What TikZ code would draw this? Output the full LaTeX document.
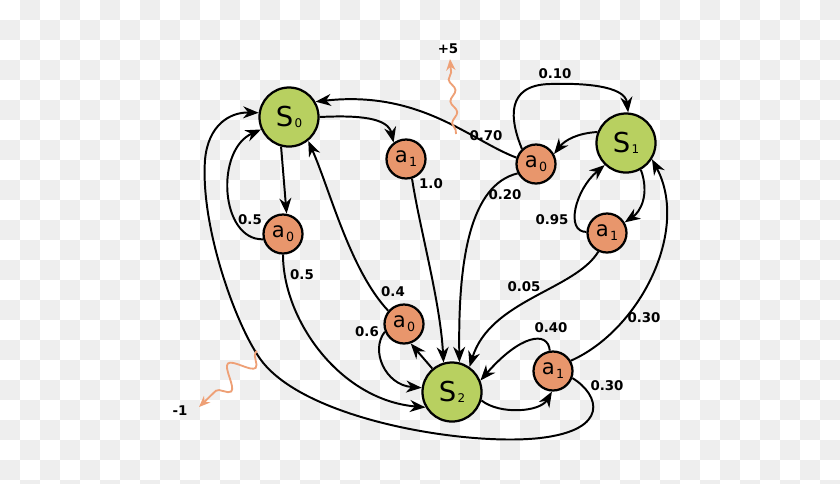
\documentclass[tikz,border=0pt]{standalone}
\usepackage{fontspec}
\setmainfont{DejaVu Sans}
\usetikzlibrary{arrows.meta,decorations.pathmorphing}

\definecolor{stategreen}{RGB}{184,208,96}
\definecolor{actorange}{RGB}{232,150,108}
\definecolor{rewardorange}{RGB}{238,160,118}
\definecolor{checker}{RGB}{238,238,238}

\newcommand{\sname}[1]{{\fontsize{19.5}{19.5}\selectfont S}\hspace{1pt}\raisebox{-1pt}{\fontsize{8.5}{8.5}\selectfont #1}}
\newcommand{\aname}[1]{{\fontsize{15}{15}\selectfont a}\hspace{1pt}\raisebox{-2.8pt}{\fontsize{9}{9}\selectfont #1}}

\tikzset{
  state/.style={draw,circle,fill=stategreen,line width=1.6pt,minimum size=1.475cm,inner sep=0pt},
  action/.style={draw,circle,fill=actorange,line width=1.6pt,minimum size=0.975cm,inner sep=0pt},
  prob/.style={font=\bfseries\fontsize{9.5}{10}\selectfont,inner sep=1pt},
  trans/.style={line width=1.4pt,-{Stealth[length=11pt,width=8.5pt,inset=3.5pt]}},
  reward/.style={draw=rewardorange,line width=1.3pt,decorate,-{Stealth[length=8pt,width=6.5pt,inset=2.5pt]}}
}

\begin{document}
\begin{tikzpicture}[x=0.025cm,y=0.025cm]
    \useasboundingbox (0,0) rectangle (840,-483);
    % Background
    \begin{scope}
      \clip (0,0) rectangle (840,-483);
      \fill[white] (0,0) rectangle (840,-483);
      \foreach \j in {0,...,24}{
        \pgfmathtruncatemacro{\off}{mod(\j+1,2)}
        \foreach \i in {0,2,...,40}
          \fill[checker] ({(\i+\off)*20},{-\j*20}) rectangle +(20,-20);
      }
    \end{scope}

    % States
    \node[state] (s0) at (289,-117) {\sname{0}};
    \node[state] (s1) at (626,-143) {\sname{1}};
    \node[state] (s2) at (452,-392) {\sname{2}};

    % Actions
    \node[action] (s0a0) at (283,-234) {\aname{0}};
    \node[action] (s0a1) at (406,-159) {\aname{1}};
    \node[action] (s1a0) at (536,-164) {\aname{0}};
    \node[action] (s1a1) at (607,-233) {\aname{1}};
    \node[action] (s2a0) at (404,-324) {\aname{0}};
    \node[action] (s2a1) at (553,-371) {\aname{1}};

    % Connections from S0
    \draw[trans] (s0.0) .. controls (360,-115) and (388,-118) .. (s0a1.127);
    \draw[trans] (s0.255) -- (s0a0.80);
    \draw[trans] (s0a0.195) .. controls (220,-240) and (215,-150) .. (s0.204);
    \draw[trans] (s0a0.270) .. controls (283,-320) and (340,-400) .. (s2.210);
    \draw[trans] (s0a1.287) .. controls (420,-230) and (440,-300) .. (s2.106);

    % Connections from S1
    \draw[trans] (s1.159) .. controls (578,-133) and (565,-140) .. (s1a0.29);
    \draw[trans] (s1a0.133) .. controls (510,-120) and (505,-85) .. (550,-84)
        .. controls (580,-83) and (625,-85) .. (s1.86);
    \draw[trans] (s1a0.162) .. controls (470,-140) and (420,-90) .. (s0.30);
    \draw[trans] (s1a0.207) .. controls (470,-185) and (458,-260) .. (s2.76);
    \draw[trans] (s1.299) .. controls (650,-195) and (640,-212) .. (s1a1.31);
    \draw[trans] (s1a1.177) .. controls (565,-232) and (575,-190) .. (s1.226);
    \draw[trans] (s1a1.245) .. controls (575,-290) and (490,-300) .. (s2.55);

    % Connections from S2
    \draw[trans] (s2.130) -- (s2a0.289);
    \draw[trans] (s2a0.140) .. controls (350,-270) and (330,-190) .. (s0.309);
    \draw[trans] (s2a0.202) .. controls (370,-350) and (385,-385) .. (s2.172);
    \draw[trans] (s2.344) .. controls (500,-415) and (540,-412) .. (s2a1.267);
    \draw[trans] (s2a1.99) .. controls (548,-330) and (520,-335) .. (s2.22);
    \draw[trans] (s2a1.30) .. controls (640,-330) and (690,-230) .. (s1.328);
    \draw[trans] (s2a1.340) .. controls (600,-395) and (610,-430) .. (540,-438)
        .. controls (470,-446) and (315,-422) .. (265,-365)
        .. controls (240,-337) and (200,-230) .. (205,-160)
        .. controls (208,-125) and (230,-112) .. (s0.172);

    % Probabilities
    \node[prob] (l1a0s1) at (555,-74) {0.10};
    \node[prob] (l1a0s0) at (486,-136) {0.70};
    \node[prob] (l1a0s2) at (505,-195) {0.20};
    \node[prob] (l1a1s1) at (552,-220) {0.95};
    \node[prob] (l0a1s2) at (431,-184) {1.0};
    \node[prob] (l0a0s0) at (250,-220) {0.5};
    \node[prob] (l0a0s2) at (302,-275) {0.5};
    \node[prob] (l2a0s0) at (393,-292) {0.4};
    \node[prob] (l2a0s2) at (367,-332) {0.6};
    \node[prob] (l1a1s2) at (524,-287) {0.05};
    \node[prob] (l2a1s2) at (551,-328) {0.40};
    \node[prob] (l2a1s1) at (644,-318) {0.30};
    \node[prob] (l2a1s0) at (607,-386) {0.30};

    % Rewards
    \node[prob] (plus5) at (448,-49) {+5};
    \node[prob] (minus1) at (180,-411) {-1};
    \coordinate (r5) at (456,-134);
    \coordinate (r5tip) at (450,-59);
    \coordinate (r1) at (257,-351);
    \coordinate (r1tip) at (199,-407);
    \draw[reward,decoration={snake,amplitude=0.075cm,segment length=0.55cm,pre length=0.1cm,post length=0.3cm}] (r5) -- (r5tip);
    \draw[reward,decoration={snake,amplitude=0.28cm,segment length=0.85cm,pre length=0.05cm,post length=0.3cm}] (r1) -- (r1tip);
\end{tikzpicture}
\end{document}
